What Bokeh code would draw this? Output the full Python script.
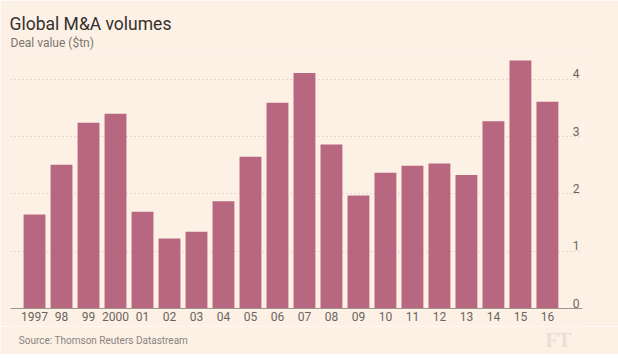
from bokeh.plotting import figure
from bokeh.layouts import column
from bokeh.models import Range1d, FixedTicker, Title, Grid, ColumnDataSource
from bokeh.core.properties import value
from bokeh.embed import file_html
from bokeh.resources import INLINE

# ---- data ----
years = ["1997", "98", "99", "2000", "01", "02", "03", "04", "05", "06",
         "07", "08", "09", "10", "11", "12", "13", "14", "15", "16"]
deal_value = [1.64, 2.51, 3.24, 3.40, 1.69, 1.22, 1.34, 1.87, 2.65, 3.59,
              4.11, 2.86, 1.97, 2.37, 2.49, 2.53, 2.33, 3.27, 4.33, 3.61]
y_ticks = [0, 1, 2, 3, 4]
y_tick_labels = ["0", "1", "2", "3", "4"]

title_text = "Global M&A volumes"
subtitle_text = "Deal value ($tn)"
source_text = "Source: Thomson Reuters Datastream"
logo_text = "FT"

# ---- style ----
BG = "#FDF0E5"
BAR = "#B7677F"
FONT = "Roboto"

positions = list(range(len(years)))
src = ColumnDataSource(dict(x=positions, top=deal_value, year=years))

p = figure(width=618, height=326, output_backend="svg", toolbar_location=None,
           x_range=Range1d(-0.89, 20.3), y_range=Range1d(0, 4.52),
           min_border_left=10, min_border_right=36, min_border_top=49,
           min_border_bottom=18, y_axis_location=None)
p.background_fill_color = BG
p.border_fill_color = BG
p.outline_line_color = None
p.xgrid.visible = False
p.ygrid.visible = False

grid = Grid(dimension=1, ticker=FixedTicker(ticks=y_ticks[1:]),
            grid_line_color="#C9C0B8", grid_line_dash="1 3", grid_line_width=1)
p.add_layout(grid)

p.vbar(x="x", top="top", width=0.81, source=src, color=BAR, line_color=None)

# y tick labels drawn inside the plot, right-aligned above each gridline
ysrc = ColumnDataSource(dict(x=[p.x_range.end] * len(y_ticks), y=y_ticks, t=y_tick_labels))
p.text(x="x", y="y", text="t", source=ysrc, x_offset=-3, y_offset=-1,
       text_align="right", text_baseline="bottom", text_font=value(FONT),
       text_font_size="12px", text_color="#6B6560")

ax = p.xaxis[0]
ax.ticker = FixedTicker(ticks=positions)
ax.major_label_overrides = {i: y for i, y in zip(positions, years)}
ax.axis_line_color = "#9E9690"
ax.axis_line_width = 1
ax.major_tick_line_color = None
ax.minor_tick_line_color = None
ax.major_tick_out = 0
ax.major_tick_in = 0
ax.minor_tick_out = 0
ax.minor_tick_in = 0
ax.major_label_standoff = 3
ax.major_label_text_font = FONT
ax.major_label_text_font_size = "12px"
ax.major_label_text_color = "#6B6560"

p.add_layout(Title(text=subtitle_text, align="left", text_font=FONT,
                   text_font_size="12px", text_font_style="normal",
                   text_color="#7C7570", offset=0, standoff=0), "above")
p.add_layout(Title(text=title_text, align="left", text_font=FONT,
                   text_font_size="17.5px", text_font_style="normal",
                   text_color="#33302E", offset=-1, standoff=0), "above")

# ---- footer strip: source note and logo ----
f = figure(width=618, height=28, output_backend="svg", toolbar_location=None,
           x_range=Range1d(0, 618), y_range=Range1d(28, 0),
           min_border_left=0, min_border_right=0, min_border_top=0,
           min_border_bottom=0, x_axis_location=None, y_axis_location=None)
f.background_fill_color = BG
f.border_fill_color = BG
f.outline_line_color = None
f.grid.visible = False
f.text(x=[9], y=[14], text=[source_text], text_font=value(FONT),
       text_font_size="10px", text_color="#8A8480", text_baseline="middle")
f.text(x=[578], y=[13], text=[logo_text], text_font=value("Liberation Serif"),
       text_font_size="20px", text_font_style="bold", text_color="#EADED4",
       text_baseline="middle")

layout = column(p, f, spacing=0)
open("out.html", "w").write(file_html(layout, INLINE))
